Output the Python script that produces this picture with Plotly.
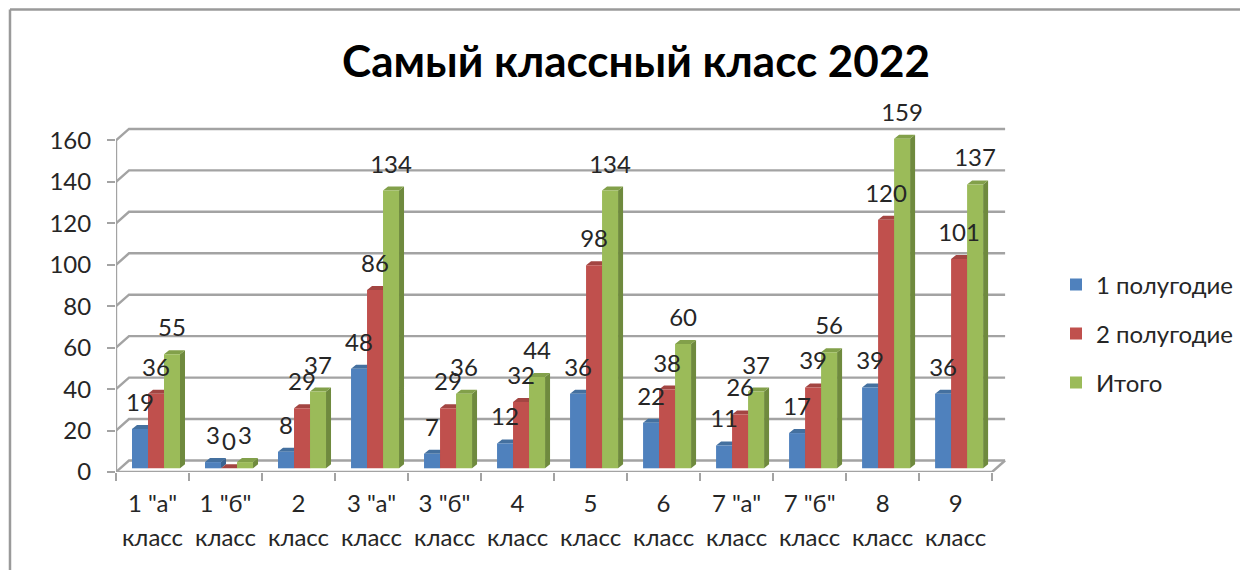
import plotly.graph_objects as go

categories = ['1 "а"', '1 "б"', '2', '3 "а"', '3 "б"', '4', '5', '6', '7 "а"', '7 "б"', '8', '9']
series_names = ["1 полугодие", "2 полугодие", "Итого"]
half_1 = [19, 3, 8, 48, 7, 12, 36, 22, 11, 17, 39, 36]
half_2 = [36, 0, 29, 86, 29, 32, 98, 38, 26, 39, 120, 101]
total = [55, 3, 37, 134, 36, 44, 134, 60, 37, 56, 159, 137]
y_ticks = [0, 20, 40, 60, 80, 100, 120, 140, 160]

front_colors = ["#4F81BD", "#C0504D", "#9BBB59"]
side_colors = ["#3A6291", "#8F3B39", "#6F8A3E"]
top_colors = ["#44709F", "#A34542", "#82A04A"]
GRID = "#A3A3A3"
TEXT = "#262626"
FONT = "Lato, Noto Sans"

# Pixel geometry of the plot
PX_LEFT, PX_BOTTOM = 116, 472
PX_PER_CAT, PX_PER_UNIT = 73.0, 2.07
X_MAX, Y_MAX = 12.3, 180

BAR_W = 16 / PX_PER_CAT
BAR_START = 16 / PX_PER_CAT
BAR_BASE = 3.7 / PX_PER_UNIT
FACE_DX, FACE_DY = 5 / PX_PER_CAT, 4 / PX_PER_UNIT
WALL_DX, WALL_DY = 13 / PX_PER_CAT, 11.5 / PX_PER_UNIT
LABEL_LIFT = 24 / PX_PER_UNIT

fig = go.Figure()

# Walls: horizontal gridlines on the back wall with the diagonal links
gx, gy = [], []
for v in y_ticks:
    gx += [0, WALL_DX, len(categories) + WALL_DX, None]
    gy += [v, v + WALL_DY, v + WALL_DY, None]
gx += [0, 0, None, 0, len(categories), len(categories) + WALL_DX]
gy += [0, y_ticks[-1], None, 0, 0, WALL_DY]
fig.add_trace(go.Scatter(x=gx, y=gy, mode="lines", line=dict(color=GRID, width=2.4),
                         showlegend=False, hoverinfo="skip", xaxis="x", yaxis="y"))

series = [half_1, half_2, total]

# Side and top faces, underneath every front face
for s, vals in enumerate(series):
    sx, sy, tx, ty = [], [], [], []
    for i, v in enumerate(vals):
        x0 = i + BAR_START + s * BAR_W
        x1 = x0 + BAR_W
        top = BAR_BASE + v
        sx += [x1, x1 + FACE_DX, x1 + FACE_DX, x1, x1, None]
        sy += [BAR_BASE, BAR_BASE + FACE_DY, top + FACE_DY, top, BAR_BASE, None]
        tx += [x0, x0 + FACE_DX, x1 + FACE_DX, x1, x0, None]
        ty += [top, top + FACE_DY, top + FACE_DY, top, top, None]
    fig.add_trace(go.Scatter(x=sx, y=sy, mode="none", fill="toself", fillcolor=side_colors[s],
                             showlegend=False, hoverinfo="skip", xaxis="x", yaxis="y"))
    fig.add_trace(go.Scatter(x=tx, y=ty, mode="none", fill="toself", fillcolor=top_colors[s],
                             showlegend=False, hoverinfo="skip", xaxis="x", yaxis="y"))

# Front faces on an overlaid pair of axes so they cover the side faces
centers = [[i + BAR_START + (s + 0.5) * BAR_W for i in range(len(categories))] for s in range(3)]
for s, vals in enumerate(series):
    fig.add_trace(go.Bar(x=centers[s], y=vals, base=BAR_BASE, width=BAR_W, name=series_names[s],
                         marker=dict(color=front_colors[s], line=dict(width=0)),
                         legendgroup=series_names[s], xaxis="x2", yaxis="y2"))
for s, vals in enumerate(series):
    fig.add_trace(go.Scatter(x=centers[s], y=[v + BAR_BASE + LABEL_LIFT for v in vals],
                             mode="text", text=[str(v) for v in vals], textposition="middle center",
                             textfont=dict(family=FONT, size=24, color=TEXT), cliponaxis=False,
                             showlegend=False, hoverinfo="skip", xaxis="x2", yaxis="y2"))

tick_text = [f'<span style="font-size:24px">{c}</span><br><span style="font-size:24px">класс</span>'
             for c in categories]

fig.update_layout(
    width=1240, height=570,
    margin=dict(l=PX_LEFT, r=1240 - PX_LEFT - X_MAX * PX_PER_CAT,
                t=PX_BOTTOM - Y_MAX * PX_PER_UNIT, b=570 - PX_BOTTOM, pad=0),
    paper_bgcolor="white", plot_bgcolor="white",
    font=dict(family=FONT, size=24, color=TEXT),
    barmode="overlay",
    title=dict(text="<b>Самый классный класс 2022</b>", font=dict(family=FONT, size=44, color="#000000"),
               x=636 / 1240, xanchor="center", xref="container",
               y=1 - 62 / 570, yanchor="middle", yref="container"),
    xaxis=dict(range=[0, X_MAX], showgrid=False, zeroline=False, showline=False,
               tickmode="array", tickvals=[i + 0.5 for i in range(len(categories))], ticktext=tick_text,
               ticks="", ticklen=0, tickfont=dict(family=FONT, size=26, color=TEXT),
               ticklabelstandoff=13,
               minor=dict(tickmode="array", tickvals=list(range(len(categories) + 1)),
                          ticks="outside", ticklen=8, tickwidth=2.4, tickcolor=GRID, showgrid=False)),
    yaxis=dict(range=[0, Y_MAX], showgrid=False, zeroline=False, showline=False,
               tickmode="array", tickvals=y_ticks, ticks="outside", ticklen=8, tickwidth=2.4,
               tickcolor=GRID, tickfont=dict(family=FONT, size=24, color=TEXT), ticklabelstandoff=11),
    xaxis2=dict(range=[0, X_MAX], overlaying="x", visible=False),
    yaxis2=dict(range=[0, Y_MAX], overlaying="y", visible=False),
    legend=dict(x=1056 / 1240, y=1 - 262.5 / 570, xref="container", yref="container",
                xanchor="left", yanchor="top", font=dict(family=FONT, size=24, color=TEXT),
                itemwidth=30, tracegroupgap=14.7, bgcolor="rgba(0,0,0,0)", itemclick=False),
    shapes=[dict(type="line", xref="paper", yref="paper", layer="below",
                 x0=(10 - PX_LEFT) / (X_MAX * PX_PER_CAT), x1=(10 - PX_LEFT) / (X_MAX * PX_PER_CAT),
                 y0=(PX_BOTTOM - 570) / (Y_MAX * PX_PER_UNIT), y1=(PX_BOTTOM - 10) / (Y_MAX * PX_PER_UNIT),
                 line=dict(color="#9A9A9A", width=2.5)),
            dict(type="line", xref="paper", yref="paper", layer="below",
                 x0=(10 - PX_LEFT) / (X_MAX * PX_PER_CAT), x1=(1240 - PX_LEFT) / (X_MAX * PX_PER_CAT),
                 y0=(PX_BOTTOM - 10) / (Y_MAX * PX_PER_UNIT), y1=(PX_BOTTOM - 10) / (Y_MAX * PX_PER_UNIT),
                 line=dict(color="#9A9A9A", width=2.5))],
)

fig.write_html("out.html", config=dict(displayModeBar=False),
               post_script="document.body.style.margin='0';document.body.style.overflow='hidden';")
